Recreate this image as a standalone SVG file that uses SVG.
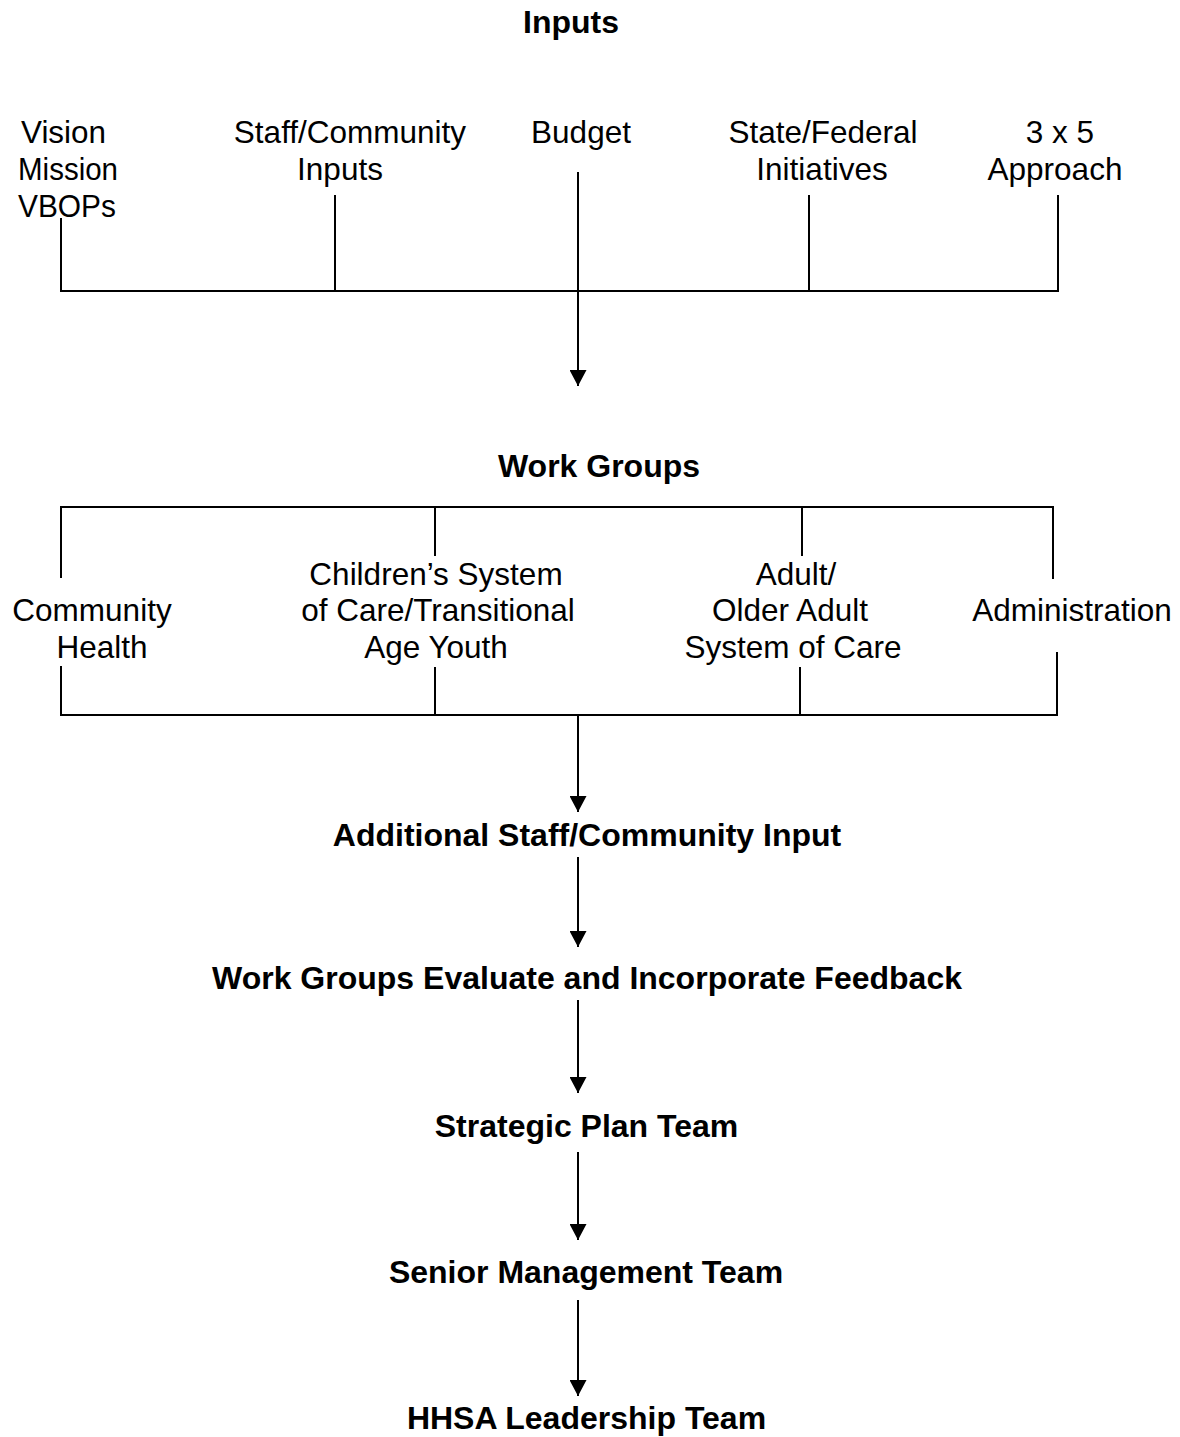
<svg xmlns="http://www.w3.org/2000/svg" width="1180" height="1437" viewBox="0 0 1180 1437">
<style>
.t{font-family:"Liberation Sans",Arial,sans-serif;font-size:31.5px;fill:#000}
.b{font-family:"Liberation Sans",Arial,sans-serif;font-size:32px;font-weight:bold;fill:#000;text-anchor:middle}
.m{text-anchor:middle}
.l{stroke:#000;stroke-width:2;fill:none}
</style>
<defs>
<marker id="ah" markerUnits="userSpaceOnUse" markerWidth="16" markerHeight="17" refX="16" refY="8.5" orient="auto" viewBox="0 0 16 17">
<path d="M0,0 L16,8.5 L0,17 Z" fill="#000"/>
</marker>
</defs>
<rect width="1180" height="1437" fill="#fff"/>
<g id="title-inputs"><text class="b" x="571" y="33">Inputs</text></g>
<g id="input-vision"><text class="t" x="21" y="143" textLength="85" lengthAdjust="spacingAndGlyphs">Vision</text><text class="t" x="18" y="180" textLength="100" lengthAdjust="spacingAndGlyphs">Mission</text><text class="t" x="18" y="217" textLength="98" lengthAdjust="spacingAndGlyphs">VBOPs</text></g>
<g id="input-staff"><text class="t m" x="350" y="143">Staff/Community</text><text class="t m" x="340" y="180">Inputs</text></g>
<g id="input-budget"><text class="t m" x="581" y="143">Budget</text></g>
<g id="input-state"><text class="t m" x="823" y="143">State/Federal</text><text class="t m" x="822" y="180">Initiatives</text></g>
<g id="input-3x5"><text class="t m" x="1060" y="143">3 x 5</text><text class="t m" x="1055" y="180">Approach</text></g>
<g id="title-workgroups"><text class="b" x="599" y="477">Work Groups</text></g>
<g id="wg-community"><text class="t m" x="92" y="621">Community</text><text class="t m" x="102" y="658">Health</text></g>
<g id="wg-children"><text class="t m" x="436" y="585">Children’s System</text><text class="t m" x="438" y="621">of Care/Transitional</text><text class="t m" x="436" y="658">Age Youth</text></g>
<g id="wg-adult"><text class="t m" x="796" y="585">Adult/</text><text class="t m" x="790" y="621">Older Adult</text><text class="t m" x="793" y="658">System of Care</text></g>
<g id="wg-admin"><text class="t m" x="1072" y="621">Administration</text></g>
<g id="additional"><text class="b" x="587" y="846">Additional Staff/Community Input</text></g>
<g id="evaluate"><text class="b" x="587" y="989" textLength="750" lengthAdjust="spacingAndGlyphs">Work Groups Evaluate and Incorporate Feedback</text></g>
<g id="strategic"><text class="b" x="586.5" y="1137">Strategic Plan Team</text></g>
<g id="senior"><text class="b" x="586" y="1283">Senior Management Team</text></g>
<g id="hhsa"><text class="b" x="586.5" y="1429">HHSA Leadership Team</text></g>
<g id="connectors" class="l">
<path d="M61,218 V291 H1058 V195 M335,195 V291 M809,195 V291"/>
<path d="M578,172 V386" marker-end="url(#ah)"/>
<path d="M61,578 V507 H1053 V579 M435,507 V556 M802,507 V556"/>
<path d="M61,666 V715 H1057 V652 M435,667 V715 M800,667 V715"/>
<path d="M578,715 V812" marker-end="url(#ah)"/>
<path d="M578,857 V947" marker-end="url(#ah)"/>
<path d="M578,1000 V1093" marker-end="url(#ah)"/>
<path d="M578,1152 V1240" marker-end="url(#ah)"/>
<path d="M578,1300 V1396" marker-end="url(#ah)"/>
</g>
</svg>
